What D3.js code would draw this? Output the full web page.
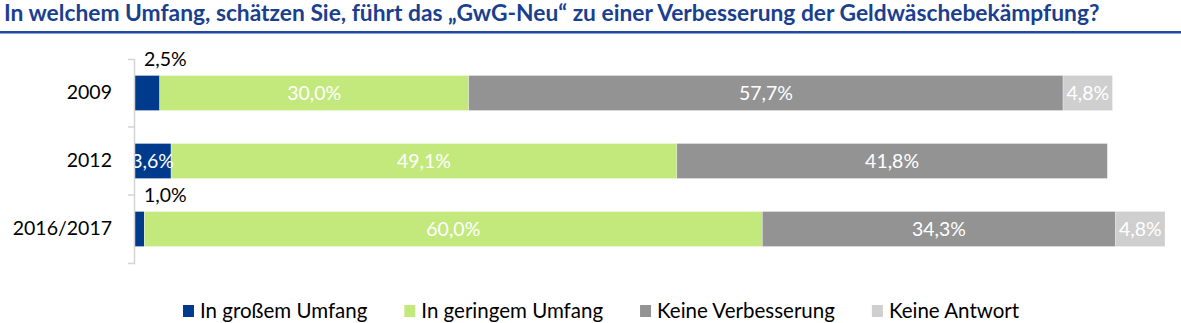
<!DOCTYPE html>
<html>
<head>
<meta charset="utf-8">
<script src="https://cdn.jsdelivr.net/npm/d3@7"></script>
<style>
  html, body { margin: 0; padding: 0; background: #fff; }
  svg { display: block; }
  text { font-family: Lato, "Open Sans", sans-serif; }
</style>
</head>
<body>
<svg id="chart" width="1181" height="323"></svg>
<script>
const titleText = "In welchem Umfang, schätzen Sie, führt das „GwG-Neu“ zu einer Verbesserung der Geldwäschebekämpfung?";
const categories = ["2009", "2012", "2016/2017"];
const seriesNames = ["In großem Umfang", "In geringem Umfang", "Keine Verbesserung", "Keine Antwort"];
const grossUmfang = [2.5, 3.6, 1.0];
const geringUmfang = [30.0, 49.1, 60.0];
const keineVerbesserung = [57.7, 41.8, 34.3];
const keineAntwort = [4.8, 0, 4.8];
const colors = ["#003a8c", "#c3e97d", "#939393", "#cfcfcf"];

const seriesValues = [grossUmfang, geringUmfang, keineVerbesserung, keineAntwort];
const fmt = v => v.toFixed(1).replace(".", ",") + "%";

const svg = d3.select("#chart");

// Title
const title = svg.append("text")
  .attr("x", 4).attr("y", 21)
  .attr("font-weight", "bold")
  .attr("font-size", 20)
  .attr("fill", "#1a3f8f")
  .text(titleText);
const tw = title.node().getComputedTextLength();
title.attr("font-size", 20 * 1096 / tw);

svg.append("rect").attr("x", 0).attr("y", 31).attr("width", 1181).attr("height", 2).attr("fill", "#24499b");
svg.append("rect").attr("x", 0).attr("y", 33).attr("width", 1181).attr("height", 1).attr("fill", "#8aa3d3");

// Scales
const x = d3.scaleLinear().domain([0, 100]).range([134, 1164]);
const y = d3.scaleBand().domain(categories).range([59, 263]).paddingInner(0.485).paddingOuter(0.2425);

// Stack data
const rows = categories.map((c, i) => {
  const r = { cat: c };
  seriesNames.forEach((s, k) => r[s] = seriesValues[k][i]);
  return r;
});
const stacked = d3.stack().keys(seriesNames)(rows);

const g = svg.append("g");
stacked.forEach((layer, k) => {
  g.selectAll(null).data(layer).enter().append("rect")
    .attr("x", d => x(d[0]))
    .attr("y", d => y(d.data.cat))
    .attr("width", d => x(d[1]) - x(d[0]))
    .attr("height", y.bandwidth())
    .attr("fill", colors[k])
    .attr("stroke", "#ffffff")
    .attr("stroke-opacity", 0.5)
    .attr("stroke-width", 0.6);
});

const labelSize = 19.5;
// Labels
stacked.forEach((layer, k) => {
  layer.forEach(d => {
    const v = d[1] - d[0];
    if (v <= 0) return;
    const yc = y(d.data.cat) + y.bandwidth() / 2;
    if (v < 3) {
      svg.append("text")
        .attr("x", x(d[0]) + 10)
        .attr("y", y(d.data.cat) - 9)
        .attr("font-size", labelSize)
        .attr("fill", "#000")
        .text(fmt(v));
    } else {
      svg.append("text")
        .attr("x", (x(d[0]) + x(d[1])) / 2)
        .attr("y", yc)
        .attr("dy", "0.35em")
        .attr("text-anchor", "middle")
        .attr("font-size", labelSize)
        .attr("fill", "#fff")
        .text(fmt(v));
    }
  });
});

// Axis
const axis = svg.append("g")
  .attr("transform", "translate(134,0)")
  .call(d3.axisLeft(y).tickSize(0).tickSizeOuter(6).tickPadding(22));
axis.select(".domain").attr("stroke", "#d4d4d4").attr("stroke-width", 1.5);
axis.selectAll(".tick text").attr("font-size", labelSize).attr("fill", "#000").attr("font-family", "Lato, sans-serif");
const inner = categories.slice(1).map(c => y(c) - y.step() * y.paddingInner() / 2);
svg.selectAll(null).data(inner).enter().append("line")
  .attr("x1", 128).attr("x2", 134)
  .attr("y1", d => d).attr("y2", d => d)
  .attr("stroke", "#d4d4d4").attr("stroke-width", 1.5);

// Legend
const legend = svg.append("g");
let lx = 183;
seriesNames.forEach((s, k) => {
  legend.append("rect").attr("x", lx).attr("y", 305).attr("width", 11).attr("height", 12).attr("fill", colors[k]);
  const t = legend.append("text").attr("x", lx + 17).attr("y", 318)
    .attr("font-size", 20.5).attr("fill", "#000").text(s);
  lx = lx + 17 + t.node().getComputedTextLength() + 37;
});
</script>
</body>
</html>
